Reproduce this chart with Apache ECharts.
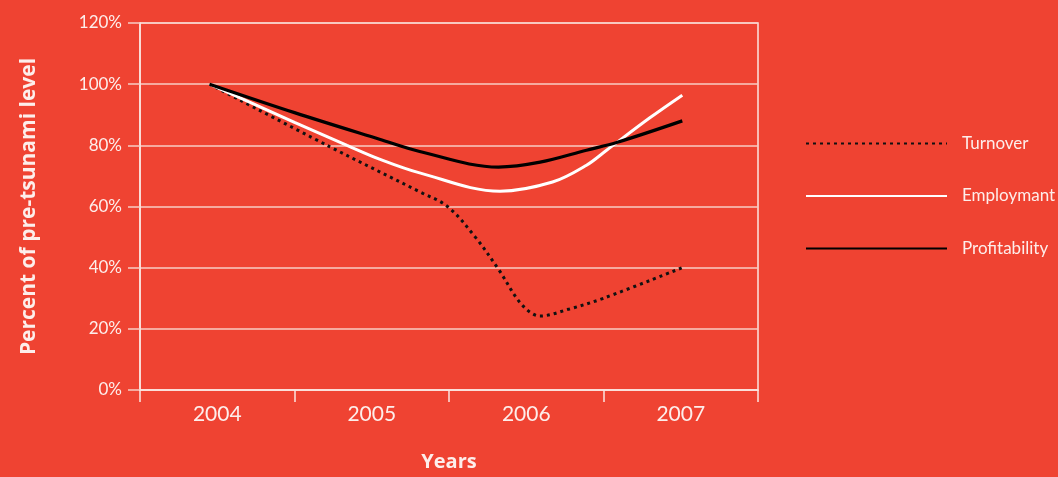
<!DOCTYPE html>
<html>
<head>
<meta charset="utf-8">
<script src="https://cdn.jsdelivr.net/npm/echarts@6/dist/echarts.min.js"></script>
<style>
  html, body { margin: 0; padding: 0; background: #ef4332; }
  #chart { width: 1058px; height: 477px; }
</style>
</head>
<body>
<div id="chart"></div>
<script>
// Year categories on the visible axis
const years = ['2004', '2005', '2006', '2007'];
// Y-axis ticks (percent of pre-tsunami level)
const yTicks = [0, 20, 40, 60, 80, 100, 120];

// Series as [year position, percent]
const turnover = [
  [2003.95, 100], [2004.73, 79.5], [2005.31, 64.8], [2005.49, 60],
  [2005.67, 50], [2005.82, 39.5], [2005.97, 28], [2006.09, 24.2],
  [2006.28, 26.5], [2006.50, 30], [2007.01, 40]
];
const employmant = [
  [2003.95, 100], [2004.50, 87.5], [2004.84, 80], [2005.05, 75.5],
  [2005.31, 71], [2005.83, 65], [2006.17, 68], [2006.39, 73.5],
  [2006.52, 78.4], [2006.80, 89], [2007.01, 96.4]
];
const profitability = [
  [2003.95, 100], [2004.50, 90.7], [2005.05, 82], [2005.31, 78],
  [2005.82, 72.9], [2006.09, 74.5], [2006.39, 78.4], [2006.59, 81],
  [2007.01, 88]
];

const textColor = '#fdeeeb';
const gridColor = '#f8cdc4';
const frameColor = '#fbe6e1';

const chart = echarts.init(document.getElementById('chart'), null, { renderer: 'canvas' });

chart.setOption({
  backgroundColor: '#ef4332',
  animation: false,
  grid: {
    left: 140, right: 300, top: 23, bottom: 87,
    show: true, borderColor: frameColor, borderWidth: 1.5,
    backgroundColor: 'transparent'
  },
  legend: {
    orient: 'vertical',
    left: 805, top: 135,
    padding: 0,
    itemWidth: 141, itemHeight: 14,
    itemGap: 35.5,
    data: ['Turnover', 'Employmant', 'Profitability'],
    itemStyle: { color: 'transparent', borderWidth: 0 },
    textStyle: {
      color: textColor, fontFamily: 'Lato', fontSize: 17,
      padding: [0, 0, 0, 10]
    }
  },
  xAxis: [
    {
      type: 'category',
      data: years,
      boundaryGap: true,
      name: 'Years',
      nameLocation: 'middle',
      nameGap: 62,
      nameTextStyle: { color: textColor, fontFamily: 'Open Sans', fontWeight: 'bold', fontSize: 20 },
      axisLine: { show: true, lineStyle: { color: frameColor, width: 1.5 } },
      axisTick: { show: true, length: 12, lineStyle: { color: frameColor, width: 1.5 } },
      axisLabel: { color: textColor, fontFamily: 'Lato', fontSize: 21, margin: 14 },
      splitLine: { show: false }
    },
    {
      type: 'value',
      min: 2003.5, max: 2007.5,
      show: false
    }
  ],
  yAxis: {
    type: 'value',
    min: 0, max: 120, interval: 20,
    name: 'Percent of pre-tsunami level',
    nameLocation: 'middle',
    nameRotate: 90,
    nameGap: 100,
    nameTextStyle: { color: textColor, fontFamily: 'Open Sans', fontWeight: 'bold', fontSize: 21 },
    axisLine: { show: true, lineStyle: { color: frameColor, width: 1.5 } },
    axisTick: { show: true, length: 12, lineStyle: { color: gridColor, width: 1.5 } },
    axisLabel: {
      color: textColor, fontFamily: 'Lato', fontSize: 17, margin: 18,
      formatter: v => yTicks.includes(v) ? v + '%' : ''
    },
    splitLine: { show: true, lineStyle: { color: gridColor, width: 1.5 } }
  },
  series: [
    {
      name: 'Turnover', type: 'line', xAxisIndex: 1,
      data: turnover, smooth: 0.35, symbol: 'none',
      lineStyle: { color: '#111', width: 3, type: [3, 4], cap: 'butt' },
      itemStyle: { color: '#111' }
    },
    {
      name: 'Employmant', type: 'line', xAxisIndex: 1,
      data: employmant, smooth: 0.35, symbol: 'none',
      lineStyle: { color: '#ffffff', width: 3 },
      itemStyle: { color: '#ffffff' }
    },
    {
      name: 'Profitability', type: 'line', xAxisIndex: 1,
      data: profitability, smooth: 0.35, symbol: 'none',
      lineStyle: { color: '#000000', width: 3.2 },
      itemStyle: { color: '#000000' }
    }
  ]
});
</script>
</body>
</html>
